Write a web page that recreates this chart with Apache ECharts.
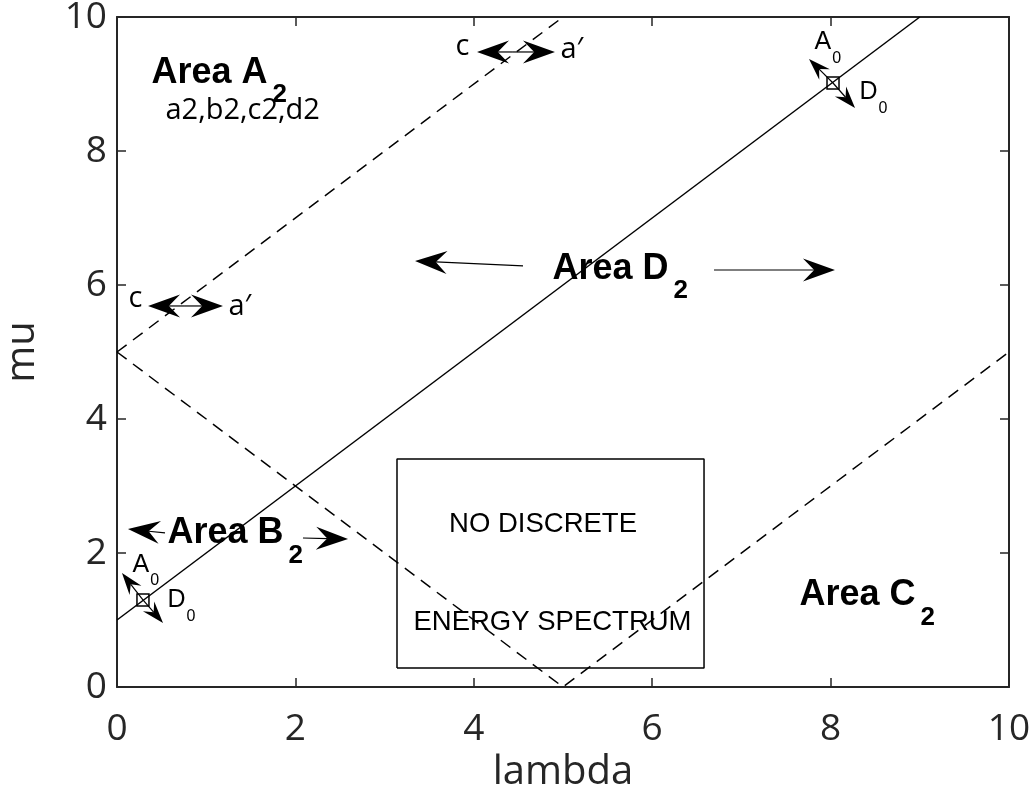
<!DOCTYPE html>
<html>
<head>
<meta charset="utf-8">
<script src="https://cdn.jsdelivr.net/npm/echarts@6/dist/echarts.min.js"></script>
<style>
html,body{margin:0;padding:0;background:#fff;}
#c{width:1032px;height:811px;}
</style>
</head>
<body>
<div id="c"></div>
<script>
// ---- data (lambda, mu) ----
const xTicks = [0, 2, 4, 6, 8, 10];
const yTicks = [0, 2, 4, 6, 8, 10];
const solidLine = [[0, 1], [9, 10]];
const dashedUpper = [[0, 5], [5, 10]];
const dashedLower = [[0, 5], [5, 0], [10, 5]];
const boxOutline = [[3.139, 0.284], [6.581, 0.284], [6.581, 3.403], [3.139, 3.403], [3.139, 0.284]];
// arrows: [tailX, tailY, tipX, tipY]
const bigArrows = [
  [4.439, 9.478, 4.036, 9.478],
  [4.439, 9.478, 4.910, 9.478],
  [0.762, 5.687, 0.348, 5.687],
  [0.762, 5.687, 1.188, 5.687],
  [0.538, 2.299, 0.123, 2.358],
  [2.085, 2.224, 2.590, 2.209],
  [4.552, 6.284, 3.341, 6.358],
  [6.693, 6.224, 8.049, 6.224]
];
const smallArrows = [
  [8.027, 9.015, 7.758, 9.373],
  [8.027, 9.015, 8.274, 8.642],
  [0.291, 1.299, 0.056, 1.701],
  [0.291, 1.299, 0.516, 0.955]
];
const crossSquares = [[8.027, 9.015], [0.291, 1.299]];
// labels: [main, subscript, x, y]
const areaLabels = [
  ['Area A', '2', 0.392, 9.425],
  ['Area D', '2', 4.888, 6.500],
  ['Area B', '2', 0.572, 2.552],
  ['Area C', '2', 7.657, 1.627]
];
const vectorLabels = [
  ['A', '0', 7.825, 9.851],
  ['D', '0', 8.330, 9.104],
  ['A', '0', 0.179, 2.052],
  ['D', '0', 0.572, 1.522]
];
const noteLabels = [
  ['a2,b2,c2,d2', 0.538, 8.597],
  ['c', 3.789, 9.552],
  ['a\u2032', 4.966, 9.507],
  ['c', 0.123, 5.799],
  ['a\u2032', 1.244, 5.672]
];
const boxLabels = [
  ['NO DISCRETE', 4.776, 2.433],
  ['ENERGY SPECTRUM', 4.882, 0.963]
];

// ---- chart ----
const axisColor = '#262626';
const tickFont = 'Open Sans';
const chart = echarts.init(document.getElementById('c'));

function arrowRenderer(headLen, headHalf) {
  return function (params, api) {
    const a = api.coord([api.value(0), api.value(1)]);
    const b = api.coord([api.value(2), api.value(3)]);
    const dx = b[0] - a[0], dy = b[1] - a[1];
    const len = Math.hypot(dx, dy) || 1;
    const ux = dx / len, uy = dy / len, nx = -uy, ny = ux;
    const bx = b[0] - ux * headLen, by = b[1] - uy * headLen;
    const notch = [b[0] - ux * headLen * 0.65, b[1] - uy * headLen * 0.65];
    return {
      type: 'group',
      children: [
        { type: 'line', shape: { x1: a[0], y1: a[1], x2: notch[0], y2: notch[1] },
          style: { stroke: '#000', lineWidth: 1.2 } },
        { type: 'polygon', shape: { points: [b, [bx + nx * headHalf, by + ny * headHalf], notch, [bx - nx * headHalf, by - ny * headHalf]] },
          style: { fill: '#000' } }
      ]
    };
  };
}

function valueAxis(pos, showLabels, name) {
  const isX = pos === 'bottom' || pos === 'top';
  return {
    type: 'value', position: pos, min: 0, max: 10, interval: 2,
    axisLine: { show: true, onZero: false, lineStyle: { color: axisColor, width: 2 } },
    axisTick: { show: true, inside: true, length: 9, lineStyle: { color: axisColor, width: 1.5 } },
    axisLabel: { show: showLabels, fontSize: 37, color: axisColor, fontFamily: tickFont,
      margin: isX ? 24 : 10,
      formatter: v => String(isX ? xTicks[xTicks.indexOf(v)] : yTicks[yTicks.indexOf(v)]) },
    splitLine: { show: false },
    name: name || '', nameLocation: 'middle',
    nameGap: isX ? 62 : 74,
    nameTextStyle: { fontSize: 40, color: axisColor, fontFamily: tickFont }
  };
}

const labelScatter = (data, label) => ({
  type: 'scatter', xAxisIndex: 0, yAxisIndex: 0, symbolSize: 1, silent: true,
  itemStyle: { color: 'rgba(0,0,0,0)', opacity: 1 }, data,
  label: Object.assign({ show: true, opacity: 1, color: '#000' }, label), z: 10
});

chart.setOption({
  animation: false,
  backgroundColor: '#fff',
  grid: { left: 117, right: 23, top: 17, bottom: 124, containLabel: false, outerBoundsMode: 'none' },
  xAxis: [valueAxis('bottom', true, 'lambda'), valueAxis('top', false)],
  yAxis: [valueAxis('left', true, 'mu'), valueAxis('right', false)],
  series: [
    { type: 'line', data: solidLine, symbol: 'none', lineStyle: { color: '#000', width: 1.5 } },
    { type: 'line', data: dashedUpper, symbol: 'none', lineStyle: { color: '#000', width: 1.5, type: [12, 8] } },
    { type: 'line', data: dashedLower, symbol: 'none', lineStyle: { color: '#000', width: 1.5, type: [12, 8] } },
    { type: 'line', data: boxOutline, symbol: 'none', lineStyle: { color: '#000', width: 1.5 } },
    { type: 'custom', renderItem: arrowRenderer(32, 11.5), data: bigArrows, encode: { x: [0, 2], y: [1, 3] }, silent: true },
    { type: 'custom', renderItem: arrowRenderer(22, 7.5), data: smallArrows, encode: { x: [0, 2], y: [1, 3] }, silent: true },
    { type: 'scatter', data: crossSquares, symbol: 'rect', symbolSize: 12, silent: true,
      itemStyle: { color: 'rgba(0,0,0,0)', borderColor: '#000', borderWidth: 1.5, opacity: 1 } },
    labelScatter(areaLabels.map(d => ({ value: [d[2], d[3]], main: d[0], sub: d[1] })), {
      position: [0, 0], align: 'left', verticalAlign: 'top', offset: [0, 12],
      formatter: p => '{m|' + p.data.main + '}{s|' + p.data.sub + '}',
      rich: {
        m: { fontFamily: 'Liberation Sans', fontWeight: 'bold', fontSize: 36, lineHeight: 34, padding: [0, 0, 22, 0], color: '#000' },
        s: { fontFamily: 'Liberation Sans', fontWeight: 'bold', fontSize: 26, lineHeight: 34, padding: [22, 0, 0, 5], color: '#000' }
      }
    }),
    labelScatter(vectorLabels.map(d => ({ value: [d[2], d[3]], main: d[0], sub: d[1] })), {
      position: [0, 0], align: 'left', verticalAlign: 'top', offset: [0, 10],
      formatter: p => '{m|' + p.data.main + '}{s|' + p.data.sub + '}',
      rich: {
        m: { fontFamily: 'Liberation Sans', fontSize: 25, lineHeight: 28, padding: [0, 0, 16, 0], color: '#000' },
        s: { fontFamily: 'Liberation Sans', fontSize: 16, lineHeight: 28, padding: [16, 0, 0, 1], color: '#000' }
      }
    }),
    labelScatter(noteLabels.map(d => ({ value: [d[1], d[2]], txt: d[0] })), {
      position: 'right', distance: 0, formatter: p => p.data.txt,
      fontFamily: tickFont, fontSize: 29
    }),
    labelScatter(boxLabels.map(d => ({ value: [d[1], d[2]], txt: d[0] })), {
      position: 'inside', align: 'center', verticalAlign: 'middle', formatter: p => p.data.txt,
      fontFamily: 'Liberation Sans', fontSize: 27.5
    })
  ]
});
</script>
</body>
</html>
